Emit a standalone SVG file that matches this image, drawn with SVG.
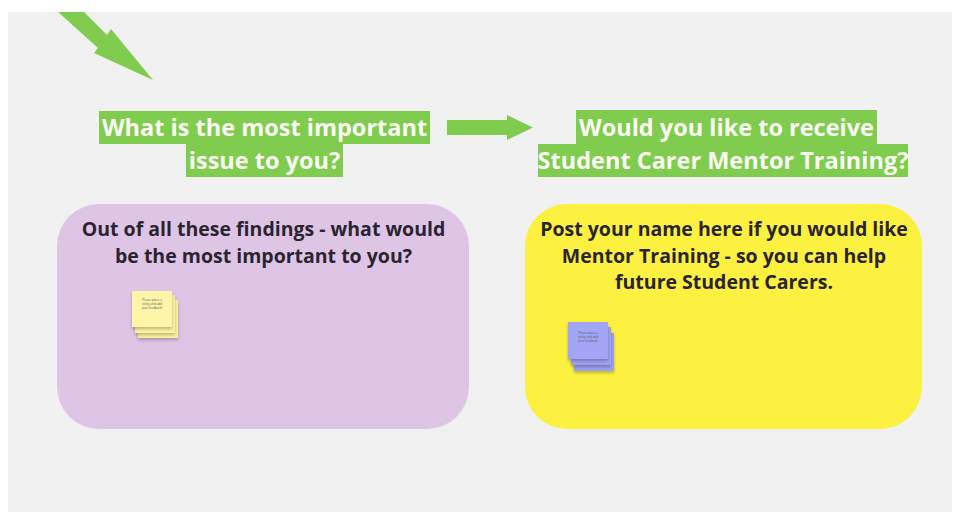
<svg xmlns="http://www.w3.org/2000/svg" width="954" height="514" viewBox="0 0 954 514">
<defs>
<style>
.lbl{fill:#80cc4e}
.lt{font-family:"Open Sans","Liberation Sans",sans-serif;font-weight:700;font-size:23.5px;fill:#fbfff5;text-anchor:middle}
.bt{font-family:"Open Sans","Liberation Sans",sans-serif;font-weight:700;font-size:19.5px;fill:#2a2430;text-anchor:middle}
.st{font-family:"Open Sans","Liberation Sans",sans-serif;font-size:3px;fill:#555;text-anchor:middle}
.arrow{fill:#80cc4e}
</style>
<filter id="sh" x="-20%" y="-20%" width="150%" height="160%">
<feDropShadow dx="0" dy="2" stdDeviation="1.5" flood-color="#000" flood-opacity="0.25"/>
</filter>
</defs>
<rect x="0" y="0" width="954" height="514" fill="#ffffff"/>
<rect x="8" y="12" width="944" height="500" fill="#f1f1f1"/>

<g id="connectors">
<polygon class="arrow" points="58,12 84,12 107,35 111,29 153,80 94,53 98,48"/>
<polygon class="arrow" points="447,120 507,120 507,115 533,127.5 507,140 507,135 447,135"/>
</g>

<g id="label-important">
<rect class="lbl" x="99" y="111" width="331" height="33"/>
<rect class="lbl" x="186" y="143" width="157" height="34"/>
<text class="lt" x="264.5" y="136">What is the most important</text>
<text class="lt" x="264.5" y="168.5">issue to you?</text>
</g>

<g id="label-mentor">
<rect class="lbl" x="576" y="110" width="301" height="35"/>
<rect class="lbl" x="538" y="144" width="370" height="33"/>
<text class="lt" x="726.5" y="136">Would you like to receive</text>
<text class="lt" x="723" y="168.5">Student Carer Mentor Training?</text>
</g>

<g id="box-findings">
<rect x="57" y="204" width="412" height="225" rx="42" fill="#dfc5e5"/>
<text class="bt" x="263.5" y="236">Out of all these findings - what would</text>
<text class="bt" x="263.5" y="263">be the most important to you?</text>
</g>

<g id="box-training">
<rect x="525" y="204" width="397" height="225" rx="42" fill="#fcf040"/>
<text class="bt" x="724" y="236">Post your name here if you would like</text>
<text class="bt" x="724" y="263">Mentor Training - so you can help</text>
<text class="bt" x="724" y="289">future Student Carers.</text>
</g>

<g id="sticky-yellow">
<rect x="138" y="300" width="40" height="38" fill="#fbf2a0" filter="url(#sh)"/>
<rect x="135" y="295" width="40" height="38" fill="#fbf2a0" filter="url(#sh)"/>
<rect x="132" y="291" width="40" height="36" fill="#fdf5a8" filter="url(#sh)"/>
<text class="st" x="152" y="301">Please place a</text>
<text class="st" x="152" y="305">sticky and add</text>
<text class="st" x="152" y="309">your feedback!</text>
</g>

<g id="sticky-blue">
<rect x="574" y="333" width="40" height="38" fill="#9ea1f2" filter="url(#sh)"/>
<rect x="571" y="327" width="40" height="38" fill="#9ea1f2" filter="url(#sh)"/>
<rect x="568" y="322" width="40" height="37" fill="#a3a6f6" filter="url(#sh)"/>
<text class="st" x="588" y="334">Please place a</text>
<text class="st" x="588" y="338">sticky and add</text>
<text class="st" x="588" y="342">your feedback</text>
</g>
</svg>
